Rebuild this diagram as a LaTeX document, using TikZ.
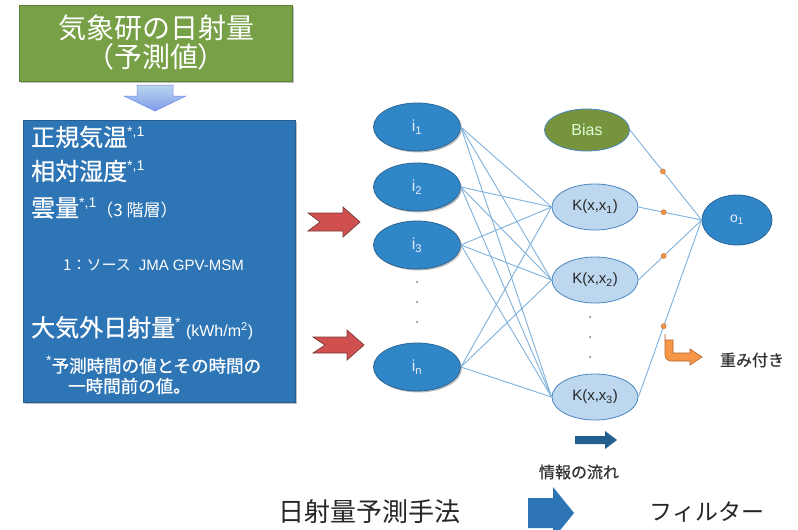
\documentclass[tikz,border=0pt]{standalone}
\usepackage{fontspec}
\setmainfont{Liberation Sans}
\newfontfamily\jp{Noto Sans CJK JP}
\newfontfamily\jpm{Noto Sans CJK JP}[FakeBold=0.6]
\usetikzlibrary{shapes.geometric,shadows}
\definecolor{gfill}{HTML}{77A047}
\definecolor{gline}{HTML}{5E7F38}
\definecolor{bfill}{HTML}{2E75B6}
\definecolor{ifill}{HTML}{3087C8}
\definecolor{iline}{HTML}{2A6494}
\definecolor{kfill}{HTML}{BDD7EE}
\definecolor{kline}{HTML}{4A86C0}
\definecolor{biasfill}{HTML}{77933C}
\definecolor{conncol}{HTML}{7EB1DC}
\definecolor{redf}{HTML}{D0504F}
\definecolor{redl}{HTML}{7A3A3A}
\definecolor{orf}{HTML}{F79646}
\definecolor{orl}{HTML}{B5652A}
\definecolor{darkb}{HTML}{24608F}
\definecolor{lightb}{HTML}{9DC3E6}
\newcommand{\supx}[1]{\raisebox{0.7ex}{\fontsize{14}{14}\selectfont\rmfamily #1}}
\tikzset{
  softshadow/.style={drop shadow={shadow xshift=1.5pt,shadow yshift=-1.5pt,opacity=0.25,fill=black}},
  inell/.style={ellipse,draw=iline,line width=0.8pt,fill=ifill,text=white!92!blue,minimum width=87pt,minimum height=48pt,inner sep=0pt,font=\fontsize{16}{16}\selectfont},
  kell/.style={ellipse,draw=kline,line width=0.8pt,fill=kfill,text=black!85,minimum width=86pt,minimum height=46pt,inner sep=0pt,font=\fontsize{15}{15}\selectfont},
  conn/.style={draw=conncol,line width=0.9pt},
  wdot/.style={circle,fill=orf,draw=orl,line width=0.4pt,inner sep=0pt,minimum size=5pt},
  vdot/.style={circle,fill=black!55,inner sep=0pt,minimum size=2pt},
  boxtext/.style={anchor=west,text=white,inner sep=0pt},
  redarr/.style={fill=redf,draw=redl,line width=0.7pt,line join=miter},
}
\begin{document}
\begin{tikzpicture}[x=1pt,y=-1pt]
\useasboundingbox (0,0) rectangle (798,530);
\fill[white] (0,0) rectangle (798,530);

% title box
\node[draw=gline,line width=1pt,fill=gfill,softshadow,minimum width=273pt,minimum height=76pt,inner sep=0pt,
  text=white,align=center,font=\jp\fontsize{28}{29}\selectfont] (title) at (156,43) {気象研の日射量\\（予測値）};

% down arrow
\shade[top color=lightb!70!white,bottom color=lightb!80!blue,draw=lightb!70!blue,line width=0.5pt]
  (137,85) -- (173,85) -- (173,96) -- (186,96) -- (155,111) -- (124,96) -- (137,96) -- cycle;

% info box
\node[fill=bfill,draw=bfill!80!black,line width=0.6pt,softshadow,minimum width=272pt,minimum height=282pt,inner sep=0pt] (info) at (159,261) {};
\node[boxtext,font=\jpm\fontsize{24}{24}\selectfont] (t1) at (31,137) {正規気温\supx{*,1}};
\node[boxtext,font=\jpm\fontsize{24}{24}\selectfont] (t2) at (31,171) {相対湿度\supx{*,1}};
\node[boxtext,font=\jpm\fontsize{24}{24}\selectfont] (t3) at (31,208) {雲量\supx{*,1}{\jp\fontsize{17}{17}\selectfont （3 階層）}};
\node[boxtext,font=\fontsize{15}{15}\selectfont] (t4) at (63,265) {{\jp 1：ソース}\hspace{8pt}JMA GPV-MSM};
\node[boxtext,font=\jpm\fontsize{24}{24}\selectfont] (t5) at (31,328) {大気外日射量\supx{*}\ {\fontsize{16}{16}\selectfont\rmfamily (kWh/m\textsuperscript{2})}};
\node[boxtext,font=\jpm\fontsize{17.5}{17.5}\selectfont] (t6) at (46,365) {\supx{*}予測時間の値とその時間の};
\node[boxtext,font=\jpm\fontsize{17.5}{17.5}\selectfont] (t7) at (68,386) {一時間前の値。};

% red arrows
\draw[redarr] (308,213) -- (343,213) -- (343,207) -- (360,222) -- (343,237) -- (343,231) -- (308,231) -- (320,222) -- cycle;
\draw[redarr] (313,337) -- (347,337) -- (347,330) -- (364,345) -- (347,360) -- (347,353) -- (313,353) -- (325,345) -- cycle;

% input nodes
\node[inell,softshadow] (i1) at (417,127) {i\textsubscript{1}};
\node[inell,softshadow] (i2) at (417,187) {i\textsubscript{2}};
\node[inell,softshadow] (i3) at (417,245) {i\textsubscript{3}};
\node[inell,softshadow] (iN) at (417,367) {i\textsubscript{n}};
\node[vdot] (d1) at (417,282) {};
\node[vdot] (d2) at (417,302) {};
\node[vdot] (d3) at (417,322) {};

% hidden nodes
\node[ellipse,draw=kline,line width=0.8pt,fill=biasfill,text=white!85!green,minimum width=85pt,minimum height=42pt,inner sep=0pt,font=\fontsize{16}{16}\selectfont] (bias) at (587,130) {Bias};
\node[kell] (k1) at (595,207) {K(x,x\textsubscript{1})};
\node[kell] (k2) at (595,280) {K(x,x\textsubscript{2})};
\node[kell] (k3) at (595,397) {K(x,x\textsubscript{3})};
\node[vdot] (e1) at (590,317) {};
\node[vdot] (e2) at (590,337) {};
\node[vdot] (e3) at (590,357) {};

% output
\node[inell,minimum width=70pt,minimum height=50pt,font=\fontsize{14}{14}\selectfont] (o1) at (737,220) {o\textsubscript{1}};

% connectors
\foreach \a in {i1,i2,i3,iN}
  \foreach \b in {k1,k2,k3}
    \draw[conn] (\a.east) -- (\b.west);
\draw[conn] (bias.east) -- node[wdot,pos=0.46] (w0) {} (o1.west);
\draw[conn] (k1.east) -- node[wdot,pos=0.4] (w1) {} (o1.west);
\draw[conn] (k2.east) -- node[wdot,pos=0.4] (w2) {} (o1.west);
\draw[conn] (k3.east) -- node[wdot,pos=0.4] (w3) {} (o1.west);

% weight legend
\draw[fill=orf,draw=orl,line width=0.6pt,line join=miter]
  (665,340) -- (673,340) -- (673,353) -- (690,353) -- (690,349) -- (702,357) -- (690,365) -- (690,361)
  {[rounded corners=6pt] -- (665,361) -- (665,340)} -- cycle;
\node[font=\jpm\fontsize{16}{16}\selectfont,text=black!80] (wlab) at (752,360) {重み付き};

% info flow legend
\fill[darkb] (575,436) -- (605,436) -- (605,431) -- (617,440) -- (605,449) -- (605,444) -- (575,444) -- cycle;
\node[font=\jpm\fontsize{16}{16}\selectfont,text=black!80] (flab) at (579,472) {情報の流れ};

% bottom
\node[font=\jp\fontsize{26}{26}\selectfont,text=black!85] (method) at (369,512) {日射量予測手法};
\fill[bfill] (528,498) -- (553,498) -- (553,487) -- (574,513) -- (553,539) -- (553,528) -- (528,528) -- cycle;
\node[font=\jp\fontsize{23}{23}\selectfont,text=black!85] (filter) at (707,512) {フィルター};
\end{tikzpicture}
\end{document}
